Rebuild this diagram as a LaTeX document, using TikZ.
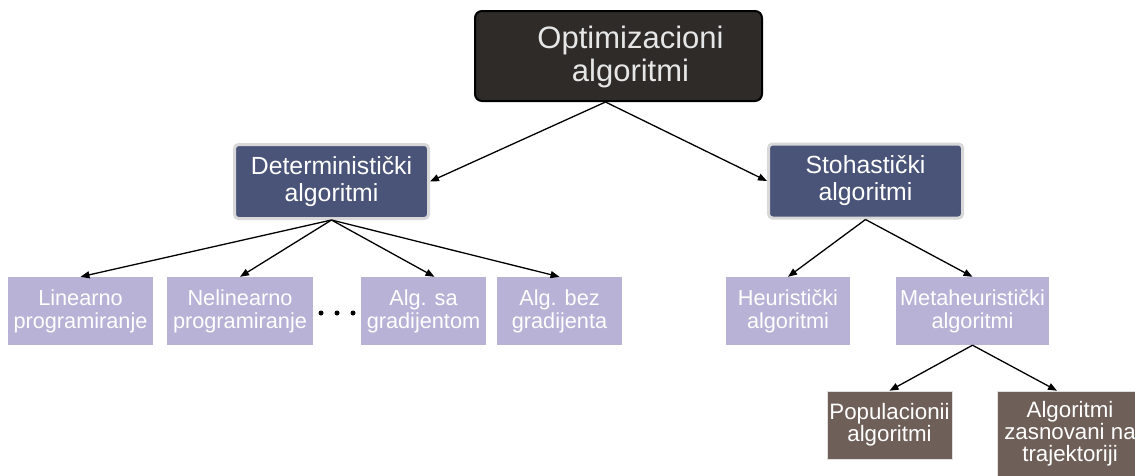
\documentclass[tikz,border=0pt]{standalone}
\usepackage{fontspec}
\setmainfont{Liberation Sans}
\usetikzlibrary{arrows.meta,calc}
\definecolor{topfill}{HTML}{2E2B29}
\definecolor{toptext}{HTML}{E6E6E6}
\definecolor{midfill}{HTML}{4A5478}
\definecolor{midborder}{HTML}{D8D8D8}
\definecolor{leaffill}{HTML}{B8B2D6}
\definecolor{brownfill}{HTML}{6E6058}
\begin{document}
\begin{tikzpicture}[x=1pt,y=-1pt,
  arr/.style={draw=black,line width=1.3pt,-{Triangle[length=9pt,width=7pt]}},
  topbox/.style={draw=black,line width=2pt,fill=topfill,rounded corners=7pt,minimum width=287pt,minimum height=90pt,inner sep=0pt},
  midbox/.style={draw=midborder,line width=3pt,fill=midfill,rounded corners=4pt,minimum width=194pt,minimum height=74pt,inner sep=0pt,text=white,align=center,font=\fontsize{24.8}{27}\selectfont},
  leaf/.style={fill=leaffill,minimum height=68pt,inner sep=0pt,text=white,align=center,font=\fontsize{21.7}{23}\selectfont},
  brownbox/.style={fill=brownfill,draw=white!80!brownfill,line width=0.6pt,inner sep=0pt,text=white,align=center,font=\fontsize{22.3}{22}\selectfont}]
\clip (0,0) rectangle (1135,475);
\fill[white] (0,0) rectangle (1135,475);

\node[topbox,label={[xshift=12pt,yshift=-1pt,text=toptext,align=center,font=\fontsize{31}{33}\selectfont]center:{Optimizacioni\\algoritmi}}] (top) at (618.5,56) {};

\node[midbox] (det) at (331.5,181.5) {Deterministički\\algoritmi};
\node[midbox] (sto) at (865.5,181) {Stohastički\\algoritmi};

\node[leaf,minimum width=145pt] (lin) at (80.5,311) {Linearno\\programiranje};
\node[leaf,minimum width=146pt] (nel) at (240,311) {Nelinearno\\programiranje};
\node[leaf,minimum width=125pt] (algsa) at (423.5,311) {Alg. sa\\gradijentom};
\node[leaf,minimum width=125pt] (algbez) at (559.5,311) {Alg. bez\\gradijenta};
\node[leaf,minimum width=124pt] (heur) at (788,311) {Heuristički\\algoritmi};
\node[leaf,minimum width=153pt] (meta) at (972.5,311) {Metaheuristički\\algoritmi};

\node[brownbox,minimum width=125pt,minimum height=68pt] (pop) at (889.5,425) {Populacionii\\algoritmi};
\node[brownbox,minimum width=146pt,minimum height=86pt] (traj) at (1070,434) {Algoritmi\\zasnovani na\\trajektoriji};

\foreach \xx in {321,337,353} \fill[black] (\xx,313) circle (2.5);

\draw[arr] ($(top.south)+(-13,0)$) -- (det.east);
\draw[arr] ($(top.south)+(-13,0)$) -- (sto.west);
\draw[arr] (det.south) -- (lin.north);
\draw[arr] (det.south) -- (nel.north);
\draw[arr] (det.south) -- ($(algsa.north)+(11,0)$);
\draw[arr] (det.south) -- (algbez.north);
\draw[arr] (sto.south) -- (heur.north);
\draw[arr] (sto.south) -- (meta.north);
\draw[arr] (meta.south) -- (pop.north);
\draw[arr] (meta.south) -- ($(traj.north)+(-13,0)$);
\end{tikzpicture}
\end{document}
